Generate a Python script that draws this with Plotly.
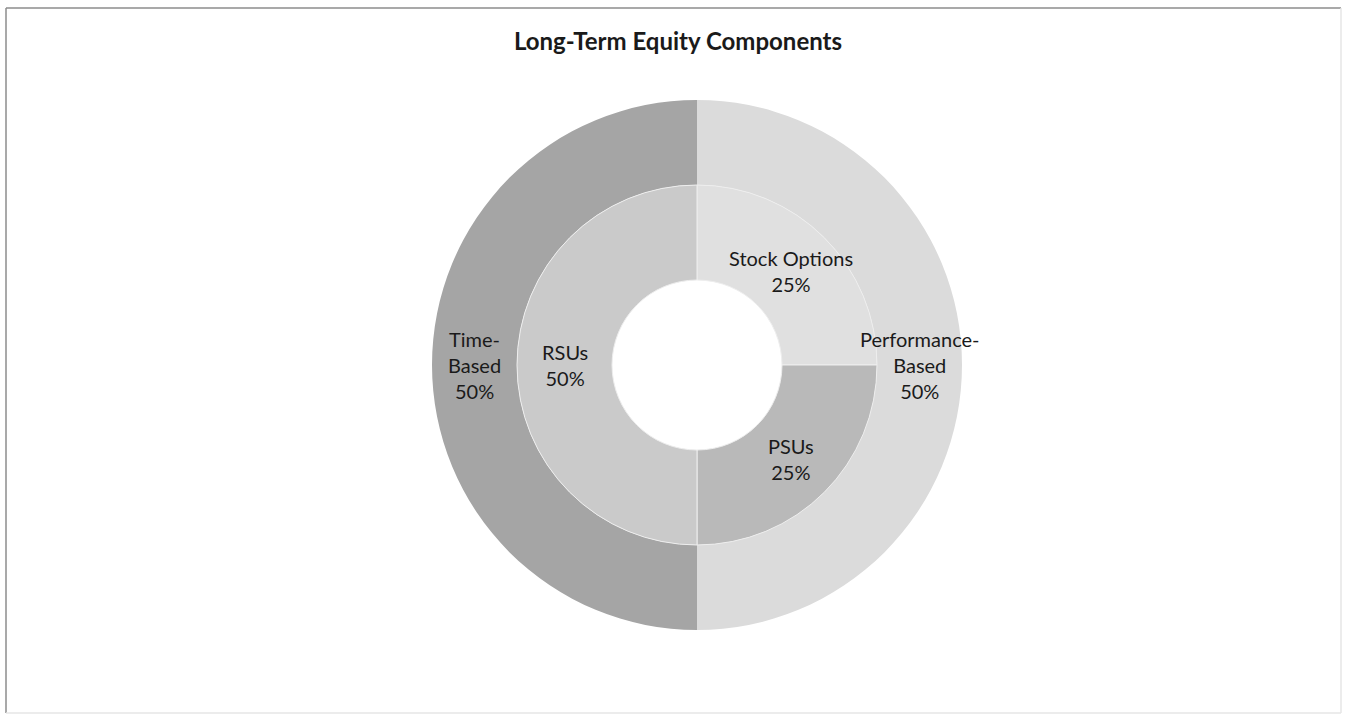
import math
import plotly.graph_objects as go

title = "Long-Term Equity Components"

outer_labels = ["Performance-Based", "Time-Based"]
outer_text = ["Performance-<br>Based", "Time-<br>Based"]
outer_values = [50, 50]
outer_colors = ["#dbdbdb", "#a5a5a5"]

inner_labels = ["Stock Options", "PSUs", "RSUs"]
inner_text = ["Stock Options", "PSUs", "RSUs"]
inner_values = [25, 25, 50]
inner_colors = ["#e0e0e0", "#b9b9b9", "#cacaca"]

W, H = 1349, 721
cx, cy = 697, 365          # pie centre in px (from top-left)
r_out, r_mid, r_in = 265, 180, 85


def domain(r):
    return dict(x=[(cx - r) / W, (cx + r) / W],
                y=[(H - cy - r) / H, (H - cy + r) / H])


fig = go.Figure()
fig.add_trace(go.Pie(
    labels=outer_labels, values=outer_values, sort=False, direction="clockwise",
    rotation=0, hole=r_mid / r_out, domain=domain(r_out), textinfo="none",
    marker=dict(colors=outer_colors, line=dict(width=0)), showlegend=False,
))
fig.add_trace(go.Pie(
    labels=inner_labels, values=inner_values, sort=False, direction="clockwise",
    rotation=0, hole=r_in / r_mid, domain=domain(r_mid), textinfo="none",
    marker=dict(colors=inner_colors, line=dict(width=1, color="#eeeeee")), showlegend=False,
))


def add_labels(texts, values, r_a, r_b):
    total = sum(values)
    cum = 0
    rm = (r_a + r_b) / 2
    for t, v in zip(texts, values):
        mid = (cum + v / 2) / total
        cum += v
        ang = 2 * math.pi * mid  # clockwise from 12 o'clock
        px = cx + rm * math.sin(ang)
        py = cy - rm * math.cos(ang)
        fig.add_annotation(
            x=px / W, y=(H - py) / H, xref="paper", yref="paper",
            xanchor="center", yanchor="middle",
            text=f"{t}<br>{int(v / total * 100)}%", showarrow=False,
            font=dict(family="Lato", size=20, color="#1a1a1a"), align="center",
        )


add_labels(outer_text, outer_values, r_mid, r_out)
add_labels(inner_text, inner_values, r_in, r_mid)

# frame
fx0, fx1, fy0, fy1 = 6 / W, 1341 / W, (H - 713) / H, (H - 8) / H
fig.add_shape(type="line", xref="paper", yref="paper", x0=fx0, x1=fx1, y0=fy1, y1=fy1,
              line=dict(color="#8c8c8c", width=1.5))
fig.add_shape(type="line", xref="paper", yref="paper", x0=fx0, x1=fx0, y0=fy0, y1=fy1,
              line=dict(color="#8c8c8c", width=1.5))
fig.add_shape(type="line", xref="paper", yref="paper", x0=fx1, x1=fx1, y0=fy0, y1=fy1,
              line=dict(color="#e6e6e6", width=1.5))
fig.add_shape(type="line", xref="paper", yref="paper", x0=fx0, x1=fx1, y0=fy0, y1=fy0,
              line=dict(color="#e6e6e6", width=1.5))

fig.update_layout(
    width=W, height=H, margin=dict(l=0, r=0, t=0, b=0),
    paper_bgcolor="white", plot_bgcolor="white",
    title=dict(text=f"<b>{title}</b>", x=678 / W, xanchor="center",
               y=(H - 42) / H, yanchor="middle",
               font=dict(family="Lato", size=24, color="#1a1a1a")),
)

fig.write_html("out.html", config={"displayModeBar": False},
               post_script="document.body.style.margin='0';")
